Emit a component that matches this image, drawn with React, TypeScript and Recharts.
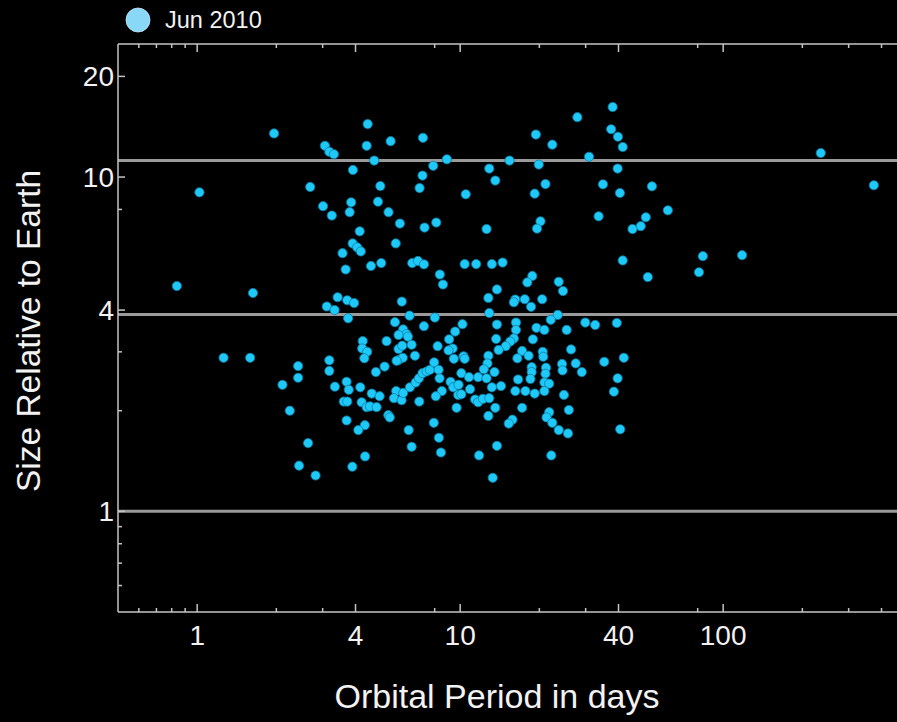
import React from "react";
import {
  ScatterChart,
  Scatter,
  XAxis,
  YAxis,
  ReferenceLine,
  Legend,
} from "recharts";

// Kepler candidates, Jun 2010 release: orbital period (days) vs radius (Earth = 1)
const period = [
  0.837, 1.02, 1.26, 1.59, 1.63, 1.96, 2.25,
  53.6, 61.6, 50.8, 48.6, 45.2, 51.7, 80.9, 83.7, 118, 235, 374,
  4.45, 3.06, 3.18, 3.31, 4.41, 5.44, 7.22, 4.71, 8.9, 7.9, 3.91, 7.19, 2.69, 4.97, 7.01,
  3.85, 4.87, 3.01, 3.25, 3.8, 5.34, 5.9, 7.32, 8.11, 4.15, 3.9, 4.06, 4.19, 5.69, 3.57,
  3.67, 4.58, 5.01, 6.57, 6.91, 7.28, 8.37, 8.6, 10.4,
  38.0, 27.9, 19.4, 22.4, 37.5, 39.8, 41.5, 15.4, 30.9, 12.9, 19.9, 39.7, 13.6, 21.1, 34.9,
  10.5, 19.2, 40.5, 33.6, 12.6, 20.2, 19.6, 11.5, 13.2, 14.5, 41.5, 18.8, 18.0, 23.7, 13.8, 24.6,
  3.42, 3.72, 3.95, 3.11, 3.33, 3.75, 6.0, 6.42, 8.01, 5.65, 7.28, 6.07, 6.25, 5.83, 6.33,
  9.57, 4.26, 5.25, 4.24, 4.43, 5.83, 6.02, 6.54, 8.21, 9.08, 9.36, 9.03, 4.32, 5.85, 6.05,
  5.73, 6.73, 9.46, 3.18, 2.42, 3.18, 2.42, 2.11, 3.34, 3.7, 3.77, 4.17, 4.61, 4.94, 3.61,
  3.72, 4.22, 4.41, 4.54, 4.81, 4.78, 5.16, 5.71, 5.6, 5.99, 6.07, 6.44, 6.77, 6.97, 7.19,
  7.45, 7.67, 7.96, 8.28, 8.35, 9.19, 9.41, 8.52, 8.08, 6.99, 9.69, 9.83, 5.33, 5.4, 3.7,
  4.34, 4.1, 6.37, 7.94, 8.3, 6.54, 8.45, 2.64, 2.44, 2.82, 3.89, 4.35,
  12.8, 16.2, 16.0, 17.6, 18.6, 20.5, 12.9, 23.5, 22.1, 29.9, 32.6, 39.4, 10.2, 13.8, 16.3,
  16.3, 19.5, 20.9, 25.4, 13.7, 16.0, 15.5, 14.9, 14.0, 18.9, 26.4, 17.2, 16.5, 18.2, 20.6,
  20.7, 12.8, 10.3, 10.4, 12.7, 12.3, 13.5, 18.7, 18.7, 21.2, 21.1, 24.4, 24.5, 27.5, 29.0,
  35.3, 41.9, 39.7, 38.4, 10.1, 10.8, 11.7, 12.6, 9.86, 10.9, 10.1, 11.4, 11.7, 12.2, 12.9,
  13.2, 14.3, 16.6, 18.5, 20.9, 21.8, 16.2, 17.7, 19.2, 20.9, 24.8, 13.6, 12.8, 17.2, 21.8,
  21.3, 22.4, 25.9, 15.8, 15.3, 23.7, 25.7, 40.6, 13.8, 11.8, 22.2, 13.3,
];

const radius = [
  4.72, 9.0, 2.88, 2.88, 4.5, 13.5, 2.0,
  9.38, 7.95, 7.58, 7.13, 6.99, 5.02, 5.19, 5.8, 5.84, 11.8, 9.45,
  14.4, 12.4, 11.9, 11.7, 12.4, 12.8, 13.1, 11.2, 11.3, 10.8, 10.5, 10.1, 9.34, 9.4, 9.27,
  8.4, 8.44, 8.18, 7.67, 7.85, 7.85, 7.26, 7.06, 7.31, 6.88, 6.33, 6.16, 5.99, 6.33, 5.92,
  5.29, 5.42, 5.53, 5.53, 5.61, 5.48, 5.11, 4.77, 5.49,
  16.2, 15.1, 13.4, 12.5, 13.9, 13.2, 12.3, 11.2, 11.5, 10.6, 10.9, 10.6, 9.76, 9.53, 9.51,
  8.88, 8.92, 8.96, 7.63, 6.99, 7.37, 7.01, 5.49, 5.49, 5.55, 5.63, 5.06, 4.84, 4.86, 4.61, 4.56,
  4.37, 4.28, 4.2, 4.1, 4.0, 3.78, 4.24, 3.85, 3.8, 3.68, 3.58, 3.5, 3.39, 3.37, 3.33,
  3.45, 3.23, 3.23, 3.07, 3.0, 3.06, 3.13, 3.15, 3.12, 3.27, 3.07, 3.03, 2.87, 2.84, 2.88,
  2.82, 2.92, 2.86, 2.83, 2.72, 2.63, 2.51, 2.39, 2.36, 2.44, 2.31, 2.35, 2.25, 2.21, 2.13,
  2.13, 2.12, 2.05, 2.06, 2.05, 2.61, 2.71, 2.29, 2.18, 2.15, 2.26, 2.35, 2.43, 2.5, 2.59,
  2.62, 2.65, 2.79, 2.65, 2.5, 2.44, 2.35, 2.29, 2.21, 2.13, 2.04, 2.23, 1.94, 1.91, 1.87,
  1.81, 1.75, 1.75, 1.84, 1.66, 1.56, 1.5, 1.6, 1.37, 1.28, 1.36, 1.46,
  4.35, 4.3, 4.22, 4.31, 4.09, 4.31, 3.92, 3.87, 3.74, 3.67, 3.61, 3.66, 3.63, 3.62, 3.67,
  3.49, 3.54, 3.49, 3.49, 3.28, 3.29, 3.22, 3.12, 3.04, 3.27, 3.05, 3.02, 2.87, 2.92, 3.0,
  2.9, 2.92, 2.91, 2.86, 2.77, 2.66, 2.61, 2.7, 2.61, 2.69, 2.58, 2.76, 2.64, 2.77, 2.61,
  2.8, 2.88, 2.5, 2.28, 2.59, 2.52, 2.52, 2.5, 2.39, 2.32, 2.24, 2.16, 2.12, 2.17, 2.18,
  2.35, 2.37, 2.48, 2.49, 2.43, 2.41, 2.29, 2.29, 2.25, 2.29, 2.23, 2.04, 1.93, 2.04, 1.98,
  1.91, 1.84, 2.01, 1.88, 1.83, 1.75, 1.71, 1.76, 1.57, 1.47, 1.47, 1.26,
];

// Earth, Neptune, Jupiter sizes
const sizeLines = [1, 3.88, 11.2];

const xMajor = [1, 4, 10, 40, 100];
const xMinor = [0.6, 0.7, 0.8, 0.9, 2, 3, 8, 20, 30, 80, 200, 300, 400];
const yMajor = [1, 4, 10, 20];
const yMinor = [0.6, 0.7, 0.8, 0.9, 2, 3, 8];

const points = period.map((p, i) => ({ period: p, radius: radius[i] }));

const AXIS = "#c4c4c4";
const TEXT = "#f2f2f2";
const FONT = '"Liberation Sans", Arial, Helvetica, sans-serif';

function BottomTick({ x, y, payload }: any) {
  const major = xMajor.includes(payload.value);
  return (
    <g>
      <line x1={x} x2={x} y1={y} y2={y - (major ? 8 : 4)} stroke={AXIS} strokeWidth={1.5} />
      {major && (
        <text x={x} y={y + 33} textAnchor="middle" fill={TEXT} fontSize={28} fontFamily={FONT}>
          {payload.value}
        </text>
      )}
    </g>
  );
}

function TopTick({ x, y, payload }: any) {
  const major = xMajor.includes(payload.value);
  return <line x1={x} x2={x} y1={y} y2={y + (major ? 8 : 4)} stroke={AXIS} strokeWidth={1.5} />;
}

function LeftTick({ x, y, payload }: any) {
  const major = yMajor.includes(payload.value);
  return (
    <g>
      <line x1={x} x2={x + (major ? 7 : 4)} y1={y} y2={y} stroke={AXIS} strokeWidth={1.5} />
      {major && (
        <text x={x - 4} y={y + 10} textAnchor="end" fill={TEXT} fontSize={28} fontFamily={FONT}>
          {payload.value}
        </text>
      )}
    </g>
  );
}

const XTitle = () => (
  <text x={497} y={708} textAnchor="middle" fill={TEXT} fontSize={34} fontFamily={FONT}>
    Orbital Period in days
  </text>
);

const YTitle = () => (
  <text
    x={40}
    y={331}
    transform="rotate(-90, 40, 331)"
    textAnchor="middle"
    fill={TEXT}
    fontSize={33.5}
    fontFamily={FONT}
  >
    Size Relative to Earth
  </text>
);

const Dot = (p: any) => (
  <circle cx={p.cx} cy={p.cy} r={4.6} fill="#1ec8f7" stroke="#0b7ea6" strokeWidth={0.8} />
);

const LegendBox = () => (
  <div style={{ display: "flex", alignItems: "center", fontFamily: FONT }}>
    <svg width={28} height={28}>
      <circle cx={14} cy={14} r={12} fill="#8ad8f8" stroke="#bfeafc" strokeWidth={0.8} />
    </svg>
    <span style={{ marginLeft: 13, fontSize: 23.5, color: TEXT, lineHeight: "28px" }}>Jun 2010</span>
  </div>
);

export default function App() {
  const xTicks = [...xMinor, ...xMajor].sort((a, b) => a - b);
  const yTicks = [...yMinor, ...yMajor].sort((a, b) => a - b);
  return (
    <div
      style={{
        position: "fixed",
        left: 0,
        top: 0,
        width: 897,
        height: 722,
        overflow: "hidden",
        background: "#000",
      }}
    >
      {/* axes need a non-zero size to render, so each takes 1px of the margin */}
      <ScatterChart width={927} height={722} margin={{ top: 43, right: 20, bottom: 109, left: 117 }}>
        <XAxis
          xAxisId="bottom"
          dataKey="period"
          type="number"
          scale="log"
          domain={[0.5, 500]}
          allowDataOverflow
          ticks={xTicks}
          interval={0}
          height={1}
          tickSize={0}
          tickMargin={0}
          tickLine={false}
          axisLine={{ stroke: AXIS, strokeWidth: 1.5 }}
          tick={BottomTick}
          label={<XTitle />}
        />
        <XAxis
          xAxisId="top"
          orientation="top"
          dataKey="period"
          type="number"
          scale="log"
          domain={[0.5, 500]}
          allowDataOverflow
          ticks={xTicks}
          interval={0}
          height={1}
          tickSize={0}
          tickMargin={0}
          tickLine={false}
          axisLine={{ stroke: AXIS, strokeWidth: 1.5 }}
          tick={TopTick}
        />
        <YAxis
          dataKey="radius"
          type="number"
          scale="log"
          domain={[0.5, 25]}
          allowDataOverflow
          ticks={yTicks}
          interval={0}
          width={1}
          tickSize={0}
          tickMargin={0}
          tickLine={false}
          axisLine={{ stroke: AXIS, strokeWidth: 1.5 }}
          tick={LeftTick}
          label={<YTitle />}
        />
        <Legend
          layout="horizontal"
          verticalAlign="middle"
          align="center"
          wrapperStyle={{ top: 6, left: 124, width: 200, height: 28 }}
          content={<LegendBox />}
        />
        <Scatter
          name="Jun 2010"
          data={points}
          xAxisId="bottom"
          fill="#1ec8f7"
          shape={Dot}
          isAnimationActive={false}
        />
        <Scatter data={[]} xAxisId="top" isAnimationActive={false} legendType="none" />
        {sizeLines.map((v) => (
          <ReferenceLine key={v} y={v} xAxisId="bottom" stroke="#9a9a9a" strokeWidth={3} />
        ))}
      </ScatterChart>
    </div>
  );
}
